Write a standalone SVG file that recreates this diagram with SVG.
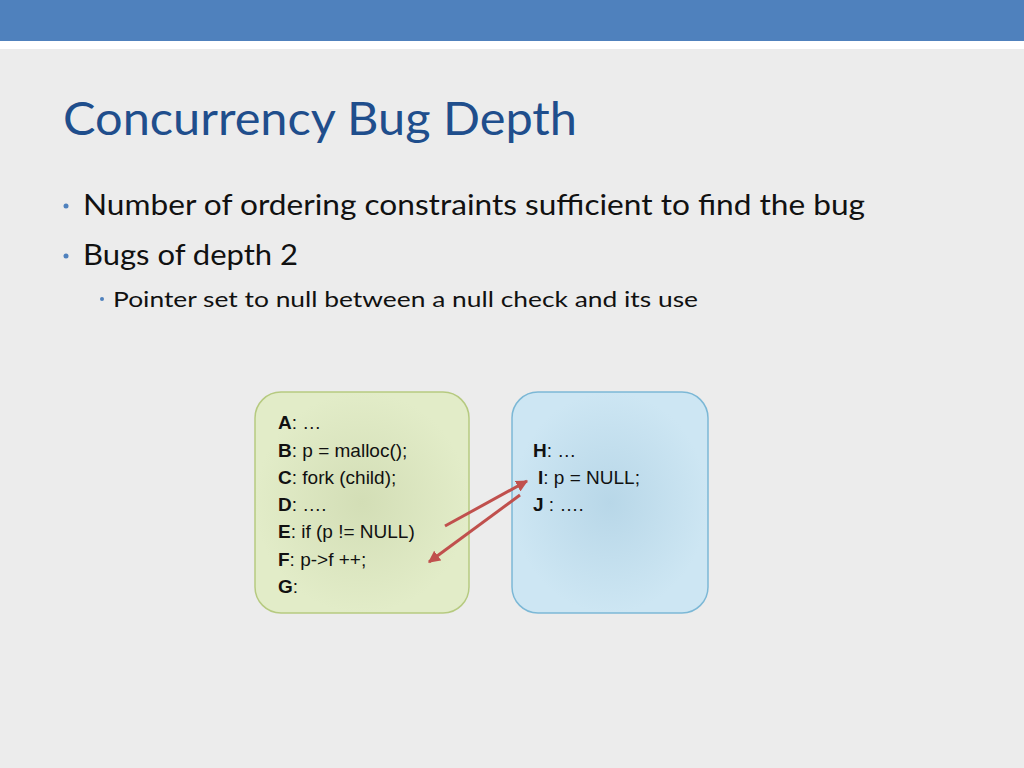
<svg xmlns="http://www.w3.org/2000/svg" width="1024" height="768" viewBox="0 0 1024 768">
<defs>
<style>
.t{font-family:"Liberation Sans",Arial,sans-serif;font-size:19px;fill:#111}
.b{font-weight:bold}
.bul{font-family:Lato,"Open Sans",sans-serif;fill:#111}
.dot{fill:#4f81bd}
</style>
<marker id="ah" viewBox="0 0 10 10" refX="9" refY="5" markerWidth="4" markerHeight="4" orient="auto"><path d="M0,0L10,5L0,10z" fill="#c0504d"/></marker>
<radialGradient id="gg"><stop offset="0" stop-color="#d3deb6"/><stop offset="1" stop-color="#e2ecc8"/></radialGradient>
<radialGradient id="bg"><stop offset="0" stop-color="#b8d7e8"/><stop offset="1" stop-color="#cde6f3"/></radialGradient>
</defs>
<rect width="1024" height="768" fill="#ececec"/>
<rect width="1024" height="41" fill="#4f81bd"/>
<rect y="41" width="1024" height="8" fill="#ffffff"/>
<text x="63" y="135" font-family="Lato,'Open Sans',sans-serif" font-size="46" fill="#1f4e8c" textLength="514" lengthAdjust="spacingAndGlyphs">Concurrency Bug Depth</text>
<circle class="dot" cx="66" cy="206" r="2.5"/>
<text class="bul" x="83" y="215" font-size="28" textLength="782" lengthAdjust="spacingAndGlyphs">Number of ordering constraints sufficient to find the bug</text>
<circle class="dot" cx="66" cy="256" r="2.5"/>
<text class="bul" x="83" y="265" font-size="28" textLength="215" lengthAdjust="spacingAndGlyphs">Bugs of depth 2</text>
<circle class="dot" cx="102" cy="299" r="2"/>
<text class="bul" x="113" y="307" font-size="22" textLength="585" lengthAdjust="spacingAndGlyphs">Pointer set to null between a null check and its use</text>
<g id="left">
<rect x="255" y="392" width="214" height="221" rx="26" fill="url(#gg)" stroke="#b6ca80" stroke-width="1.5"/>
<text class="t" x="278" y="429"><tspan class="b">A</tspan>: …</text>
<text class="t" x="278" y="457"><tspan class="b">B</tspan>: p = malloc();</text>
<text class="t" x="278" y="484"><tspan class="b">C</tspan>: fork (child);</text>
<text class="t" x="278" y="511"><tspan class="b">D</tspan>: ….</text>
<text class="t" x="278" y="538"><tspan class="b">E</tspan>: if (p != NULL)</text>
<text class="t" x="278" y="566"><tspan class="b">F</tspan>:    p-&gt;f ++;</text>
<text class="t" x="278" y="593"><tspan class="b">G</tspan>:</text>
</g>
<g id="right">
<rect x="512" y="392" width="196" height="221" rx="26" fill="url(#bg)" stroke="#7cb8d6" stroke-width="1.5"/>
<text class="t" x="533" y="457"><tspan class="b">H</tspan>: …</text>
<text class="t" x="538" y="484"><tspan class="b">I</tspan>: p = NULL;</text>
<text class="t" x="533" y="511"><tspan class="b">J</tspan> :  ….</text>
</g>
<g id="connectors" stroke="#c0504d" stroke-width="3" fill="none">
<line x1="445" y1="526" x2="527" y2="481" marker-end="url(#ah)"/>
<line x1="520" y1="495" x2="429" y2="562" marker-end="url(#ah)"/>
</g>
</svg>
